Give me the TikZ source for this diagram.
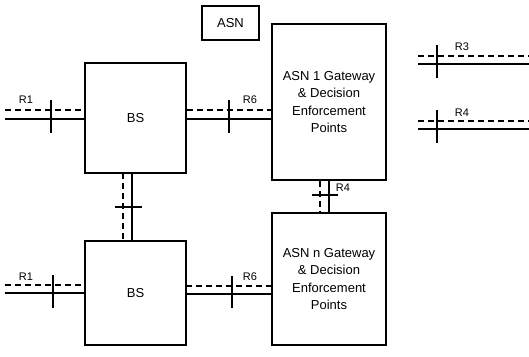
\documentclass[tikz,border=0pt]{standalone}
\usepackage{fontspec}
\setmainfont{Liberation Sans}
\usetikzlibrary{calc}

\begin{document}
\begin{tikzpicture}[x=1pt, y=-1pt,
  box/.style={draw, line width=1.3pt, inner sep=0pt, align=center, font=\fontsize{13}{17.5}\selectfont},
  ctrl/.style={line width=1.1pt, dash pattern=on 6pt off 4pt},
  data/.style={line width=1.3pt},
  tick/.style={line width=1.1pt},
  lbl/.style={inner sep=0pt, font=\fontsize{11}{13}\selectfont}]
  \useasboundingbox (0,0) rectangle (529,356);

  % ASN domain
  \node[box, minimum width=57pt, minimum height=34pt] (asn) at (230.5,23) {ASN};

  % Base stations
  \node[box, minimum width=101pt, minimum height=110pt] (bsup) at (135.5,118) {BS};
  \node[box, minimum width=101pt, minimum height=104pt] (bslo) at (135.5,293) {BS};

  % Gateways
  \node[box, minimum width=114pt, minimum height=156pt] (gwone) at (329,102) {ASN 1 Gateway\\\& Decision\\Enforcement\\Points};
  \node[box, minimum width=114pt, minimum height=132pt] (gwn) at (329,279) {ASN n Gateway\\\& Decision\\Enforcement\\Points};

  % R1 (upper)
  \coordinate (r1uc) at (5,110);
  \coordinate (r1ud) at (5,119);
  \draw[ctrl] (r1uc) -- (r1uc -| bsup.west);
  \draw[data] (r1ud) -- (r1ud -| bsup.west);
  \draw[tick] (51,100) -- (51,133);
  \node[lbl] (r1ulbl) at (26,100) {R1};

  % R6 (upper)
  \coordinate (r6uc) at ($(bsup.east)+(0,-8)$);
  \coordinate (r6ud) at ($(bsup.east)+(0,1)$);
  \draw[ctrl] (r6uc) -- (r6uc -| gwone.west);
  \draw[data] (r6ud) -- (r6ud -| gwone.west);
  \draw[tick] (229,100) -- (229,133);
  \node[lbl] (r6ulbl) at (250,100) {R6};

  % R1 (lower)
  \coordinate (r1lc) at (5,285);
  \coordinate (r1ld) at (5,293);
  \draw[ctrl] (r1lc) -- (r1lc -| bslo.west);
  \draw[data] (r1ld) -- (r1ld -| bslo.west);
  \draw[tick] (53,275) -- (53,308);
  \node[lbl] (r1llbl) at (26,277) {R1};

  % R6 (lower)
  \coordinate (r6lc) at (186,286);
  \coordinate (r6ld) at (186,294);
  \draw[ctrl] (r6lc) -- (r6lc -| gwn.west);
  \draw[data] (r6ld) -- (r6ld -| gwn.west);
  \draw[tick] (232,276) -- (232,308);
  \node[lbl] (r6llbl) at (250,277) {R6};

  % BS to BS
  \coordinate (bsc) at (123,173);
  \coordinate (bsd) at (132,173);
  \draw[ctrl] (bsc) -- (bsc |- bslo.north);
  \draw[data] (bsd) -- (bsd |- bslo.north);
  \draw[tick] (115,207) -- (142,207);

  % R4 (gateway to gateway)
  \coordinate (r4c) at ($(gwone.south)+(-9,0)$);
  \coordinate (r4d) at (gwone.south);
  \draw[ctrl] (r4c) -- (r4c |- gwn.north);
  \draw[data] (r4d) -- (r4d |- gwn.north);
  \draw[tick] (312,195) -- (338,195);
  \node[lbl] (r4lbl) at (343,188) {R4};

  % R3 and R4 (outside)
  \coordinate (r3c) at (418,56);
  \coordinate (r3d) at (418,64);
  \draw[ctrl] (r3c) -- (529,56);
  \draw[data] (r3d) -- (529,64);
  \draw[tick] (437,45) -- (437,78);
  \node[lbl] (r3lbl) at (462,47) {R3};

  \coordinate (r4oc) at (418,121);
  \coordinate (r4od) at (418,129);
  \draw[ctrl] (r4oc) -- (529,121);
  \draw[data] (r4od) -- (529,129);
  \draw[tick] (437,110) -- (437,143);
  \node[lbl] (r4olbl) at (462,113) {R4};
\end{tikzpicture}
\end{document}
